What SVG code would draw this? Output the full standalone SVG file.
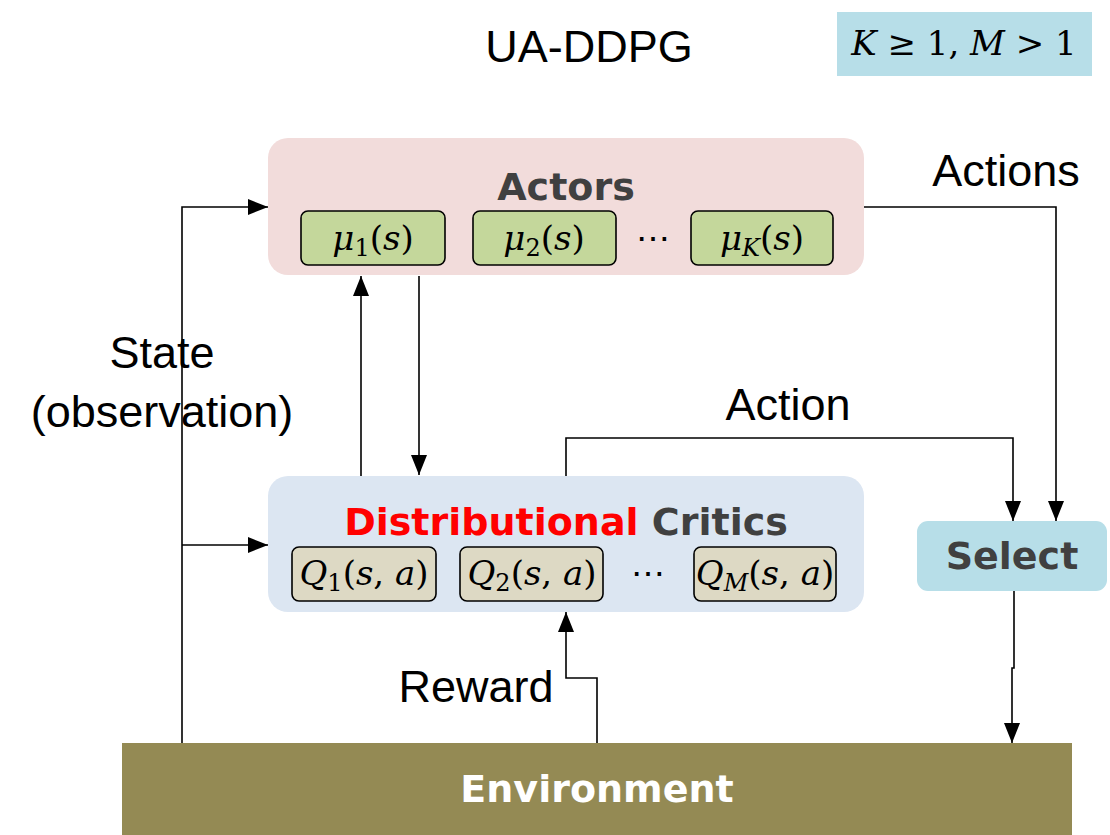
<svg xmlns="http://www.w3.org/2000/svg" width="1110" height="835" viewBox="0 0 1110 835">
<defs>
<marker id="ah" markerWidth="20" markerHeight="16" refX="20" refY="8" orient="auto" markerUnits="userSpaceOnUse">
<path d="M0,0 L20,8 L0,16 Z" fill="#000"/>
</marker>
<style>
.lbl{font-family:"Liberation Sans",Arial,sans-serif;font-size:45px;fill:#000}
.bold{font-family:"DejaVu Sans",Verdana,sans-serif;font-weight:bold;font-size:38px;fill:#404040}
.math{font-family:"DejaVu Serif","Liberation Serif",serif;font-size:34px;fill:#000}
.it{font-style:italic}
.sub{font-size:24px}
.sub-box{stroke:#000;stroke-width:1.6}
.conn{fill:none;stroke:#000;stroke-width:1.6}
</style>
</defs>
<rect width="1110" height="835" fill="#fff"/>

<text class="lbl" x="589" y="62" text-anchor="middle" font-size="48">UA-DDPG</text>

<g id="cond">
<rect x="837" y="12" width="255" height="64" fill="#B7DEE8"/>
<text class="math" x="964" y="55" text-anchor="middle" font-size="31"><tspan class="it">K</tspan> ≥ 1, <tspan class="it">M</tspan> &gt; 1</text>
</g>

<g id="actors">
<rect x="268" y="138" width="596" height="137" rx="20" fill="#F2DCDB"/>
<text class="bold" x="566" y="200" text-anchor="middle">Actors</text>
<g id="mu1">
<rect class="sub-box" x="301" y="211" width="144" height="54" rx="7" fill="#C4D79B"/>
<text class="math" x="373" y="250" text-anchor="middle"><tspan class="it">μ</tspan><tspan class="sub" dy="6">1</tspan><tspan dy="-6">(</tspan><tspan class="it">s</tspan>)</text>
</g>
<g id="mu2">
<rect class="sub-box" x="473" y="211" width="143" height="54" rx="7" fill="#C4D79B"/>
<text class="math" x="544" y="250" text-anchor="middle"><tspan class="it">μ</tspan><tspan class="sub" dy="6">2</tspan><tspan dy="-6">(</tspan><tspan class="it">s</tspan>)</text>
</g>
<text class="math" x="653" y="250" text-anchor="middle">⋯</text>
<g id="muK">
<rect class="sub-box" x="691" y="211" width="142" height="54" rx="7" fill="#C4D79B"/>
<text class="math" x="762" y="250" text-anchor="middle"><tspan class="it">μ</tspan><tspan class="sub it" dy="6">K</tspan><tspan dy="-6">(</tspan><tspan class="it">s</tspan>)</text>
</g>
</g>

<g id="critics">
<rect x="268" y="476" width="596" height="136" rx="20" fill="#DCE6F2"/>
<text class="bold" x="566" y="535" text-anchor="middle"><tspan fill="#FF0000">Distributional</tspan> Critics</text>
<g id="q1">
<rect class="sub-box" x="292" y="547" width="144" height="54" rx="7" fill="#DDD9C4"/>
<text class="math" x="364" y="585" text-anchor="middle"><tspan class="it">Q</tspan><tspan class="sub" dy="6">1</tspan><tspan dy="-6">(</tspan><tspan class="it">s</tspan>, <tspan class="it">a</tspan>)</text>
</g>
<g id="q2">
<rect class="sub-box" x="460" y="547" width="143" height="54" rx="7" fill="#DDD9C4"/>
<text class="math" x="532" y="585" text-anchor="middle"><tspan class="it">Q</tspan><tspan class="sub" dy="6">2</tspan><tspan dy="-6">(</tspan><tspan class="it">s</tspan>, <tspan class="it">a</tspan>)</text>
</g>
<text class="math" x="648" y="585" text-anchor="middle">⋯</text>
<g id="qM">
<rect class="sub-box" x="694" y="547" width="142" height="54" rx="7" fill="#DDD9C4"/>
<text class="math" x="765" y="585" text-anchor="middle"><tspan class="it">Q</tspan><tspan class="sub it" dy="6">M</tspan><tspan dy="-6">(</tspan><tspan class="it">s</tspan>, <tspan class="it">a</tspan>)</text>
</g>
</g>

<g id="select">
<rect x="917" y="521" width="190" height="70" rx="11" fill="#B7DEE8"/>
<text class="bold" x="1012" y="569" text-anchor="middle">Select</text>
</g>

<g id="environment">
<rect x="122" y="743" width="950" height="92" fill="#948A54"/>
<text class="bold" x="597" y="802" text-anchor="middle" style="fill:#fff">Environment</text>
</g>

<g id="connectors">
<path class="conn" d="M182,743 V207 H268" marker-end="url(#ah)"/>
<path class="conn" d="M182,545 H268" marker-end="url(#ah)"/>
<path class="conn" d="M361,476 V276" marker-end="url(#ah)"/>
<path class="conn" d="M419,276 V475" marker-end="url(#ah)"/>
<path class="conn" d="M566,476 V438 H1013 V521" marker-end="url(#ah)"/>
<path class="conn" d="M864,207 H1056 V521" marker-end="url(#ah)"/>
<path class="conn" d="M1014,591 V668 H1012 V743" marker-end="url(#ah)"/>
<path class="conn" d="M597,743 V678 H566 V612" marker-end="url(#ah)"/>
</g>

<g id="labels">
<text class="lbl" x="1006" y="186" text-anchor="middle">Actions</text>
<text class="lbl" x="162" y="368" text-anchor="middle">State</text>
<text class="lbl" x="162" y="427" text-anchor="middle">(observation)</text>
<text class="lbl" x="788" y="420" text-anchor="middle">Action</text>
<text class="lbl" x="476" y="702" text-anchor="middle">Reward</text>
</g>
</svg>
